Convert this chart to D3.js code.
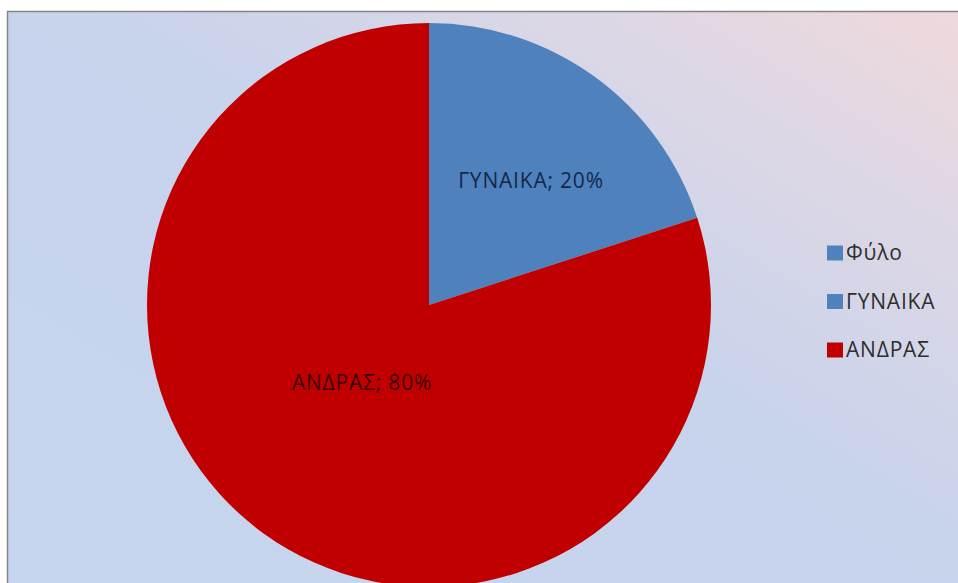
<!DOCTYPE html>
<html>
<head>
<meta charset="utf-8">
<script src="https://cdn.jsdelivr.net/npm/d3@7"></script>
<style>
  body { margin: 0; background: #fff; }
  svg { display: block; }
</style>
</head>
<body>
<div id="chart"></div>
<script>
// data
var categories = ["ΓΥΝΑΙΚΑ", "ΑΝΔΡΑΣ"];
var values = [20, 80];
var legendLabels = ["Φύλο", "ΓΥΝΑΙΚΑ", "ΑΝΔΡΑΣ"];
var legendColors = ["#4f81bd", "#4f81bd", "#c00000"];
var sliceColors = ["#4f81bd", "#c00000"];

var width = 958;
var height = 583;

var svg = d3.select("#chart")
  .append("svg")
  .attr("width", width)
  .attr("height", height);

var defs = svg.append("defs");
var grad = defs.append("linearGradient")
  .attr("id", "bg")
  .attr("x1", "0").attr("y1", "1")
  .attr("x2", "1").attr("y2", "0");
grad.append("stop").attr("offset", "0").attr("stop-color", "#c6d5ef");
grad.append("stop").attr("offset", "0.55").attr("stop-color", "#c8d3ec");
grad.append("stop").attr("offset", "0.8").attr("stop-color", "#ddd7e5");
grad.append("stop").attr("offset", "1").attr("stop-color", "#f0d9db");

// chart area with border on top and left (cut off on the right and bottom)
svg.append("rect")
  .attr("x", 7.5)
  .attr("y", 11.5)
  .attr("width", width + 10)
  .attr("height", height + 10)
  .attr("fill", "url(#bg)")
  .attr("stroke", "#858585")
  .attr("stroke-width", 1.5);

var cx = 429, cy = 305, radius = 282;

var pie = d3.pie().sort(null).value(function(d) { return d; });
var arcs = pie(values);

var arc = d3.arc().innerRadius(0).outerRadius(radius);

var pieGroup = svg.append("g")
  .attr("transform", `translate(${cx}, ${cy})`);

pieGroup.selectAll("path")
  .data(arcs)
  .enter()
  .append("path")
  .attr("d", arc)
  .attr("fill", function(d, i) { return sliceColors[i]; });

// data labels
var labelPos = [[531, 181], [362, 383]];
pieGroup.selectAll("text.lbl")
  .data(arcs)
  .enter()
  .append("text")
  .attr("class", "lbl")
  .attr("x", function(d, i) { return labelPos[i][0] - cx; })
  .attr("y", function(d, i) { return labelPos[i][1] - cy; })
  .attr("dy", "0.35em")
  .attr("text-anchor", "middle")
  .style("font-family", "'Open Sans', 'Noto Sans', sans-serif")
  .style("font-size", "21px")
  .style("letter-spacing", "0.8px")
  .style("fill", function(d, i) { return i === 0 ? "#13284a" : "#3a0000"; })
  .text(function(d, i) { return categories[i] + "; " + d.value + "%"; });

// legend
var legend = svg.append("g")
  .attr("transform", "translate(827, 253)");

var items = legend.selectAll("g")
  .data(legendLabels)
  .enter()
  .append("g")
  .attr("transform", function(d, i) { return `translate(0, ${i * 48.5})`; });

items.append("rect")
  .attr("x", 0)
  .attr("y", -7.5)
  .attr("width", 16)
  .attr("height", 15)
  .attr("fill", function(d, i) { return legendColors[i]; });

items.append("text")
  .attr("x", 19)
  .attr("dy", "0.35em")
  .style("font-family", "'Open Sans', 'Noto Sans', sans-serif")
  .style("font-size", "21px")
  .style("letter-spacing", "0.8px")
  .style("fill", "#2e2e2e")
  .text(function(d) { return d; });
</script>
</body>
</html>
